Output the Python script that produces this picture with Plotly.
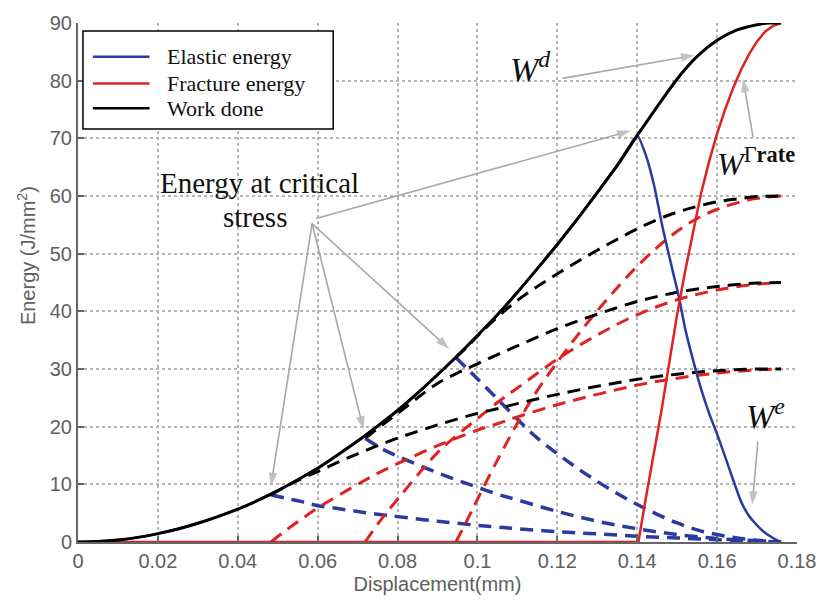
import plotly.graph_objects as go

# ---------------- data ----------------
# Work done (solid black)
disp_work = [0, 0.005, 0.01, 0.015, 0.02, 0.025, 0.03, 0.035, 0.04, 0.045, 0.05, 0.055, 0.06,
             0.065, 0.07, 0.075, 0.08, 0.085, 0.09, 0.095, 0.1, 0.105, 0.11, 0.115, 0.12,
             0.125, 0.13, 0.135, 0.14, 0.145, 0.15, 0.155, 0.16, 0.165, 0.17, 0.173, 0.176]
work_done = [0, 0.1, 0.35, 0.8, 1.45, 2.25, 3.25, 4.4, 5.7, 7.2, 8.9, 10.8, 12.8,
             15.1, 17.5, 20.1, 22.8, 25.8, 29.0, 32.3, 35.8, 39.4, 43.3, 47.4, 51.6,
             56.0, 60.6, 65.3, 70.5, 75.5, 80.3, 84.2, 87.0, 88.8, 89.7, 90.0, 90.0]

# Elastic energy (solid blue): equals work done until 0.14, then released
disp_elastic = [0, 0.005, 0.01, 0.015, 0.02, 0.025, 0.03, 0.035, 0.04, 0.045, 0.05, 0.055, 0.06,
                0.065, 0.07, 0.075, 0.08, 0.085, 0.09, 0.095, 0.1, 0.105, 0.11, 0.115, 0.12,
                0.125, 0.13, 0.135, 0.14, 0.1422, 0.1443, 0.1463, 0.1484, 0.1504, 0.152, 0.154,
                0.156, 0.158, 0.16, 0.162, 0.164, 0.166, 0.168, 0.17, 0.172, 0.174, 0.176]
elastic = [0, 0.1, 0.35, 0.8, 1.45, 2.25, 3.25, 4.4, 5.7, 7.2, 8.9, 10.8, 12.8,
           15.1, 17.5, 20.1, 22.8, 25.8, 29.0, 32.3, 35.8, 39.4, 43.3, 47.4, 51.6,
           56.0, 60.6, 65.3, 70.5, 67.0, 61.6, 54.7, 48.4, 42.6, 37.0, 31.5,
           26.5, 22.3, 18.7, 14.8, 10.8, 7.0, 4.5, 2.9, 1.6, 0.7, 0]

# Fracture energy (solid red)
disp_fracture = [0, 0.1403, 0.142, 0.144, 0.146, 0.148, 0.15, 0.152, 0.154, 0.156, 0.158,
                 0.16, 0.162, 0.164, 0.166, 0.168, 0.17, 0.172, 0.174, 0.176]
fracture = [0, 0, 7.0, 14.5, 22.5, 31.0, 39.5, 47.0, 54.0, 60.5, 66.0,
            70.8, 75.0, 78.7, 81.9, 84.6, 86.8, 88.5, 89.5, 90.0]

# Critical-stress case 1 (dashed)
disp_c1 = [0.0483, 0.052, 0.056, 0.06, 0.065, 0.07, 0.075, 0.08, 0.09, 0.1, 0.105, 0.11,
           0.12, 0.13, 0.14, 0.15, 0.16, 0.17, 0.176]
work_c1 = [8.2, 9.6, 11.0, 12.2, 13.8, 15.3, 16.7, 18.0, 20.3, 22.3, 23.1, 24.0,
           25.6, 27.0, 28.2, 29.1, 29.7, 30.0, 30.0]
elastic_c1 = [8.2, 7.6, 7.0, 6.3, 5.8, 5.3, 4.8, 4.4, 3.6, 2.9, 2.6, 2.3,
              1.8, 1.4, 1.0, 0.7, 0.4, 0.15, 0]
fracture_c1 = [0, 2.0, 4.0, 5.9, 8.0, 10.0, 11.9, 13.6, 16.7, 19.4, 20.5, 21.7,
               23.8, 25.6, 27.2, 28.4, 29.3, 29.85, 30.0]

# Critical-stress case 2 (dashed)
disp_c2 = [0.0719, 0.076, 0.08, 0.085, 0.09, 0.095, 0.1, 0.105, 0.11, 0.12, 0.13, 0.14,
           0.15, 0.16, 0.17, 0.176]
work_c2 = [18.0, 20.2, 22.3, 25.0, 27.5, 29.3, 30.9, 32.5, 34.0, 37.0, 39.5, 41.7,
           43.3, 44.3, 44.9, 45.0]
elastic_c2 = [18.0, 16.2, 14.9, 13.4, 12.0, 10.7, 9.5, 8.3, 7.3, 5.3, 3.6, 2.3,
              1.3, 0.6, 0.2, 0]
fracture_c2 = [0, 4.0, 7.4, 11.6, 15.5, 18.6, 21.4, 24.2, 26.7, 31.7, 35.9, 39.4,
               42.0, 43.7, 44.7, 45.0]

# Critical-stress case 3 (dashed)
disp_c3 = [0.0946, 0.0975, 0.1, 0.105, 0.11, 0.115, 0.12, 0.125, 0.13, 0.135, 0.14, 0.145,
           0.15, 0.155, 0.16, 0.165, 0.17, 0.176]
work_c3 = [32.0, 33.9, 35.7, 39.0, 41.9, 44.3, 46.5, 48.6, 50.6, 52.5, 54.3, 55.9,
           57.2, 58.2, 59.0, 59.5, 59.9, 60.0]
elastic_c3 = [32.0, 30.0, 28.3, 24.8, 21.3, 18.0, 15.3, 12.8, 10.5, 8.4, 6.5, 4.8,
              3.3, 2.1, 1.3, 0.7, 0.3, 0]
fracture_c3 = [0, 3.9, 7.4, 14.2, 20.6, 26.3, 31.2, 35.8, 40.1, 44.1, 47.8, 51.1,
               53.9, 56.1, 57.7, 58.8, 59.6, 60.0]

legend_names = ["Elastic energy", "Fracture energy", "Work done"]
x_ticks = [0, 0.02, 0.04, 0.06, 0.08, 0.1, 0.12, 0.14, 0.16, 0.18]
x_tick_labels = ["0", "0.02", "0.04", "0.06", "0.08", "0.1", "0.12", "0.14", "0.16", "0.18"]
y_ticks = [0, 10, 20, 30, 40, 50, 60, 70, 80, 90]

# ---------------- styles ----------------
W, H = 828, 604
ML, MR, MT, MB = 78, 26, 18, 62
BLUE = "#2b3a9f"
RED = "#e02222"
BLACK = "#000000"
DASH = "13px,8px"
ARROW = "#a8a8a8"
serif = "Liberation Serif"


def px(X, Y):
    """pixel position -> paper coords"""
    return (X - ML) / (W - ML - MR), (H - MB - Y) / (H - MT - MB)


fig = go.Figure()

cases = [(disp_c1, work_c1, elastic_c1, fracture_c1),
         (disp_c2, work_c2, elastic_c2, fracture_c2),
         (disp_c3, work_c3, elastic_c3, fracture_c3)]

for dx, w, e, f in cases:
    fig.add_trace(go.Scatter(x=dx, y=e, mode="lines", showlegend=False, hoverinfo="skip",
                             line=dict(color=BLUE, width=3.5, dash=DASH, shape="spline")))
for dx, w, e, f in cases:
    fig.add_trace(go.Scatter(x=dx, y=f, mode="lines", showlegend=False, hoverinfo="skip",
                             line=dict(color=RED, width=3, dash=DASH, shape="spline")))
for dx, w, e, f in cases:
    fig.add_trace(go.Scatter(x=dx, y=w, mode="lines", showlegend=False, hoverinfo="skip",
                             line=dict(color=BLACK, width=3, dash=DASH, shape="spline")))

colors = [BLUE, RED, BLACK]
fig.add_trace(go.Scatter(x=disp_elastic, y=elastic, mode="lines", name=legend_names[0],
                         showlegend=False, line=dict(color=BLUE, width=2.5, shape="spline",
                                                     smoothing=0.4)))
fig.add_trace(go.Scatter(x=disp_fracture, y=fracture, mode="lines", name=legend_names[1],
                         showlegend=False, line=dict(color=RED, width=2.5)))
fig.add_trace(go.Scatter(x=disp_work, y=work_done, mode="lines", name=legend_names[2],
                         showlegend=False, line=dict(color=BLACK, width=3, shape="spline",
                                                     smoothing=0.6)))


# ---------------- gray pointer arrows (line + arrowhead marker) ----------------
def arrow(x, y, ax, ay):
    fig.add_trace(go.Scatter(x=[ax, x], y=[ay, y], mode="lines+markers", showlegend=False,
                             hoverinfo="skip", line=dict(color=ARROW, width=1.6),
                             marker=dict(symbol="arrow", angleref="previous", size=[0, 14],
                                         color=ARROW, standoff=0,
                                         line=dict(width=0))))


src = (0.0586, 55.2)
arrow(disp_c1[0], work_c1[0] + 1.5, *src)
arrow(disp_c2[0] - 0.0004, work_c2[0] + 1.5, *src)
arrow(disp_c3[0] - 0.0017, work_c3[0] + 1.5, *src)
arrow(0.1383, 71.3, 0.0596, 56.1)
arrow(0.1543, 84.4, 0.1213, 80.4)   # W^d
arrow(0.1665, 80.3, 0.169, 70.2)    # W^Gamma
arrow(0.1688, 6.5, 0.1702, 17.4)    # W^e

# ---------------- legend (drawn as box + sample lines + labels) ----------------
x0, y0 = px(83, 26)
x1, y1 = px(335, 125)
fig.add_shape(type="rect", xref="paper", yref="paper", x0=x0, y0=y1, x1=x1, y1=y0,
              line=dict(color="black", width=1.5), fillcolor="white", layer="above")
row_y = [52, 79, 104]
for name, col, ry in zip(legend_names, colors, row_y):
    lx0, ly = px(93, ry)
    lx1, _ = px(150, ry)
    fig.add_shape(type="line", xref="paper", yref="paper", x0=lx0, y0=ly, x1=lx1, y1=ly,
                  line=dict(color=col, width=2.5), layer="above")
    tx, _ = px(166, ry)
    fig.add_annotation(x=tx, y=ly, xref="paper", yref="paper", text=name, showarrow=False,
                       xanchor="left", yanchor="middle",
                       font=dict(family=serif, size=22, color="#111"))

# ---------------- text labels ----------------
fig.add_annotation(x=0.0454, y=62.3, xref="x", yref="y", text="Energy at critical",
                   showarrow=False, font=dict(family=serif, size=29, color="#111"))
fig.add_annotation(x=0.0444, y=56.3, xref="x", yref="y", text="stress",
                   showarrow=False, font=dict(family=serif, size=29, color="#111"))
fig.add_annotation(x=0.1132, y=82.3, xref="x", yref="y", text="<i>W</i><sup><i>d</i></sup>",
                   showarrow=False, font=dict(family=serif, size=34, color="#111"))
fig.add_annotation(x=0.1697, y=65.9, xref="x", yref="y",
                   text="<i>W</i><sup>Γ<b>rate</b></sup>",
                   showarrow=False, font=dict(family=serif, size=32, color="#111"))
fig.add_annotation(x=0.1722, y=22.2, xref="x", yref="y", text="<i>W</i><sup><i>e</i></sup>",
                   showarrow=False, font=dict(family=serif, size=34, color="#111"))

# y-axis title placed like the reference (upper part of the axis)
tx, ty = px(26, 253)
fig.add_annotation(x=tx, y=ty, xref="paper", yref="paper", text="Energy (J/mm<sup>2</sup>)",
                   textangle=-90, showarrow=False, xanchor="center", yanchor="middle",
                   font=dict(family="Liberation Sans", size=20, color="#606060"))

axis_font = dict(family="Liberation Sans", size=20, color="#606060")

fig.update_layout(
    width=W, height=H,
    margin=dict(l=ML, r=MR, t=MT, b=MB),
    paper_bgcolor="white", plot_bgcolor="white",
    showlegend=False,
    xaxis=dict(range=[0, 0.18], tickvals=x_ticks, ticktext=x_tick_labels,
               showgrid=True, gridcolor="#b5b5b5", griddash="dot", gridwidth=1.5,
               zeroline=False, showline=True, linecolor="#666", linewidth=2,
               ticks="inside", ticklen=6, tickcolor="#666", tickwidth=1.5,
               tickfont=axis_font,
               title=dict(text="Displacement(mm)", font=axis_font, standoff=6)),
    yaxis=dict(range=[0, 90], tickvals=y_ticks,
               showgrid=True, gridcolor="#b5b5b5", griddash="dot", gridwidth=1.5,
               zeroline=False, showline=True, linecolor="#666", linewidth=2,
               ticks="inside", ticklen=6, tickcolor="#666", tickwidth=1.5,
               tickfont=axis_font),
)

fig.write_html("out.html")
